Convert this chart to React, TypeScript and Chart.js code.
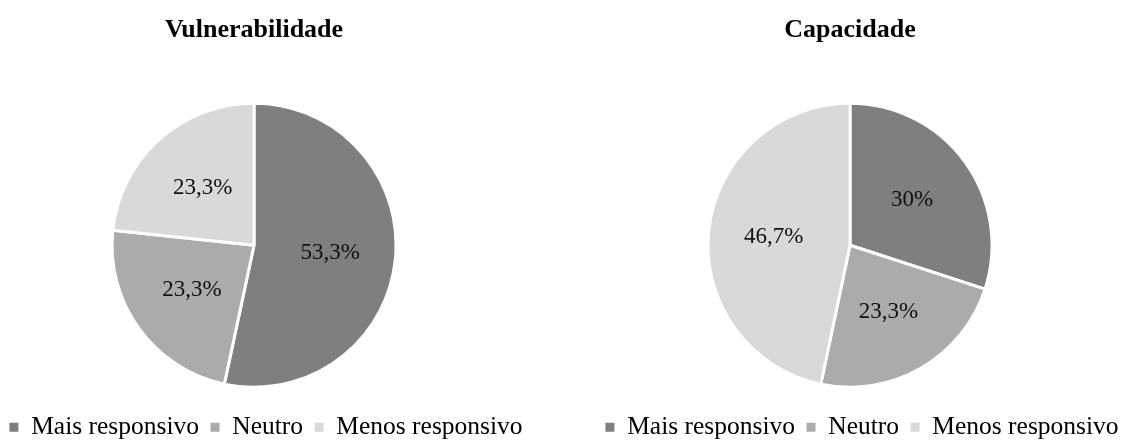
import React, { useEffect, useRef } from "react";
import { Chart, registerables } from "chart.js";

Chart.register(...registerables);

const categories = ["Mais responsivo", "Neutro", "Menos responsivo"];
const colors = ["#7F7F7F", "#ABABAB", "#D9D9D9"];
const vulnerabilidadeValues = [53.3, 23.3, 23.3];
const capacidadeValues = [30, 23.3, 46.7];
const titles = ["Vulnerabilidade", "Capacidade"];

const FONT = "'Liberation Serif', 'Times New Roman', serif";

const labelPlugin = {
  id: "sliceLabels",
  afterDatasetsDraw(chart: any) {
    const ctx = chart.ctx;
    const meta = chart.getDatasetMeta(0);
    const data = chart.data.datasets[0].data as number[];
    ctx.save();
    ctx.font = `23px ${FONT}`;
    ctx.fillStyle = "#111";
    ctx.textAlign = "center";
    ctx.textBaseline = "middle";
    meta.data.forEach((arc: any, i: number) => {
      const mid = (arc.startAngle + arc.endAngle) / 2;
      const r = arc.outerRadius * 0.54;
      const x = arc.x + Math.cos(mid) * r;
      const y = arc.y + Math.sin(mid) * r;
      const txt = String(data[i]).replace(".", ",") + "%";
      ctx.fillText(txt, x, y);
    });
    ctx.restore();
  },
};

const CANVAS_H = 450;

function PieChart({
  title,
  values,
  left,
  width,
  rightReserve,
}: {
  title: string;
  values: number[];
  left: number;
  width: number;
  rightReserve: number;
}) {
  const ref = useRef<HTMLCanvasElement>(null);
  useEffect(() => {
    if (!ref.current) return;
    const defaultGen = (Chart as any).overrides.pie.plugins.legend.labels.generateLabels;
    const chart = new Chart(ref.current, {
      type: "pie",
      data: {
        labels: categories,
        datasets: [
          {
            data: values,
            backgroundColor: colors,
            borderColor: "#ffffff",
            borderWidth: 3,
            radius: 142,
          } as any,
        ],
      },
      options: {
        animation: false,
        responsive: false,
        maintainAspectRatio: false,
        layout: { padding: 0 },
        plugins: {
          tooltip: { enabled: false },
          title: {
            display: true,
            text: title,
            color: "#000",
            fullSize: false,
            font: { family: FONT, size: 26, weight: "bold", lineHeight: 1.2 },
            padding: { top: 14.4, bottom: 41.9 },
          },
          subtitle: {
            display: true,
            text: " ",
            position: "right",
            color: "rgba(0,0,0,0)",
            font: { family: FONT, size: 10, lineHeight: 1 },
            padding: { top: rightReserve - 10, bottom: 0 },
          },
          legend: {
            display: true,
            position: "bottom",
            align: "center",
            fullSize: true,
            labels: {
              color: "#000",
              font: { family: FONT, size: 25.5 },
              boxWidth: 9,
              boxHeight: 9,
              padding: 11.5,
              generateLabels: (c: any) =>
                defaultGen(c).map((l: any) => ({
                  ...l,
                  lineWidth: 0,
                  strokeStyle: l.fillStyle,
                })),
            },
          },
        } as any,
      },
      plugins: [labelPlugin],
    });
    return () => chart.destroy();
  }, []);
  return (
    <canvas
      ref={ref}
      width={width}
      height={CANVAS_H}
      style={{ position: "absolute", left, top: 0, width, height: CANVAS_H }}
    />
  );
}

export default function App() {
  return (
    <div
      style={{
        position: "absolute",
        left: 0,
        top: 0,
        width: 1125,
        height: 441,
        overflow: "hidden",
        background: "#fff",
      }}
    >
      <PieChart title={titles[0]} values={vulnerabilidadeValues} left={-14} width={560} rightReserve={24} />
      <PieChart title={titles[1]} values={capacidadeValues} left={582} width={560} rightReserve={24} />
    </div>
  );
}
